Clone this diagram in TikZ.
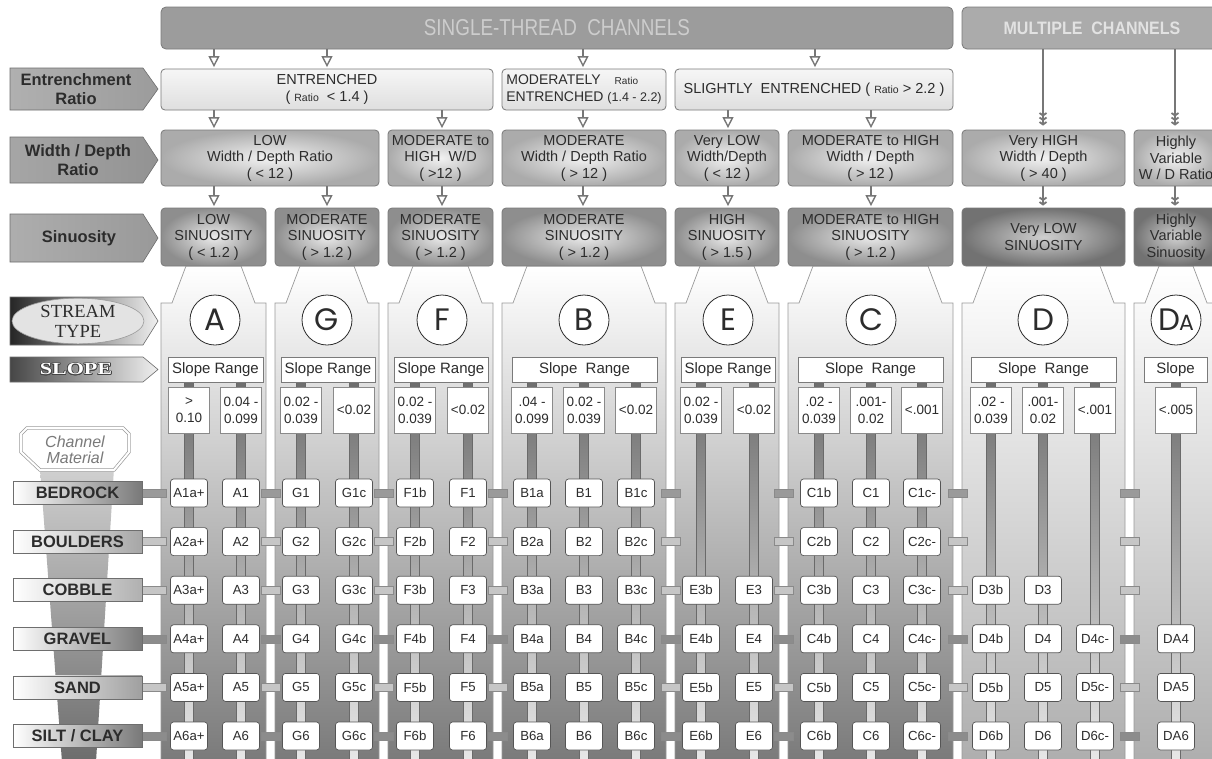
\documentclass[tikz,border=0pt]{standalone}
\usepackage{fontspec}
\setmainfont{Liberation Sans}
\newfontfamily\seriffont{Liberation Serif}
\newfontfamily\letterfont{Poppins}
\usepackage{graphicx}
\usepackage{contour}
\contourlength{0.7pt}
\usetikzlibrary{arrows.meta,calc,shapes.geometric}

\definecolor{txt}{HTML}{2C2C2C}
\definecolor{edge}{HTML}{7A7A7A}
\definecolor{edgetwo}{HTML}{8A8A8A}
\definecolor{stfill}{HTML}{9C9C9C}
\definecolor{sttxt}{HTML}{CDCDCD}
\definecolor{mcfill}{HTML}{ABABAB}
\definecolor{mctxt}{HTML}{E2E2E2}
\definecolor{enttop}{HTML}{F6F6F6}
\definecolor{entbot}{HTML}{DFDFDF}
\definecolor{wdin}{HTML}{F2F2F2}
\definecolor{wdout}{HTML}{ABABAB}
\definecolor{sinin}{HTML}{EAEAEA}
\definecolor{sinout}{HTML}{8E8E8E}
\definecolor{sdin}{HTML}{CFCFCF}
\definecolor{sdout}{HTML}{727272}
\definecolor{pedge}{HTML}{9A9A9A}
\definecolor{pdark}{HTML}{7A7A7A}
\definecolor{plight}{HTML}{AEAEAE}
\definecolor{vtop}{HTML}{6E6E6E}
\definecolor{vbot}{HTML}{E8E8E8}
\definecolor{vedge}{HTML}{6A6A6A}
\definecolor{stubA}{HTML}{9A9A9A}
\definecolor{stubB}{HTML}{C6C6C6}
\definecolor{stubD}{HTML}{8C8C8C}
\definecolor{stubedge}{HTML}{8A8A8A}
\definecolor{arw}{HTML}{777777}
\definecolor{codeedge}{HTML}{555555}
\definecolor{tagedge}{HTML}{6E6E6E}
\definecolor{slopeol}{HTML}{444444}
\definecolor{chm}{HTML}{7A7A7A}
\definecolor{funtop}{HTML}{D0D0D0}
\definecolor{funbot}{HTML}{6C6C6C}

\newcommand\mybox[7]{\node[#6, minimum width={#4-#2}, minimum height={#5-#3}] (#1) at ({(#2+#4)/2},{(#3+#5)/2}) {#7};}
\newcommand\panel[3]{\path[panelsty=#3] (#1,762) -- (#1,303) -- ({#1+11},303) -- ({#1+25},266) -- ({#2-25},266) -- ({#2-11},303) -- (#2,303) -- (#2,762) -- cycle;}
\newcommand\codecol[5]{\foreach \r in {#5}{\node[code] (k#2\r) at (#1,{493+(\r-1)*48.6}) {#3\r#4};}}
\newcommand\lefttag[4]{\path[draw=tagedge, line width=0.6pt, left color=#3, right color=#4] (10,#1) -- (143,#1) -- (158,{(#1+#2)/2}) -- (143,#2) -- (10,#2) -- cycle;}

\begin{document}
\begin{tikzpicture}[x=1pt,y=-1pt,
  topbox/.style={rounded corners=5pt, draw=edge, line width=0.8pt, inner sep=0pt},
  box/.style={rounded corners=4pt, draw=edge, line width=0.8pt, align=center, text=txt, inner sep=1pt, font=\fontsize{14.5}{16.5}\selectfont},
  entbox/.style={box, top color=enttop, bottom color=entbot},
  wdbox/.style={box, inner color=wdin, outer color=wdout},
  sinbox/.style={box, inner color=sinin, outer color=sinout},
  sindark/.style={box, inner color=sdin, outer color=sdout},
  panelsty/.style={draw=pedge, line width=0.7pt, top color=white, bottom color=#1},
  srbox/.style={draw=edge, fill=white, line width=0.6pt, inner sep=0pt, text=txt, font=\fontsize{15}{16}\selectfont},
  valbox/.style={draw=edgetwo, fill=white, line width=0.6pt, align=center, inner sep=0pt, text=txt, minimum width=41, minimum height=46, font=\fontsize{13.5}{17}\selectfont},
  code/.style={draw=codeedge, fill=white, rounded corners=3pt, line width=0.7pt, minimum width=37, minimum height=28, inner sep=0pt, text=txt, font=\fontsize{13.2}{14}\selectfont},
  letter/.style={circle, draw=txt, fill=white, line width=0.8pt, minimum size=50, inner sep=0pt, text=txt, font=\letterfont\fontsize{31}{31}\selectfont},
  lbl/.style={align=center, text=txt, font=\bfseries\fontsize{16.5}{19}\selectfont},
  mat/.style={draw=tagedge, line width=0.6pt, left color=white, minimum width=129, minimum height=23, inner sep=0pt, text=txt, font=\bfseries\fontsize{16.5}{18}\selectfont},
  harrow/.style={draw=arw, line width=1.6pt, shorten >=1.5pt, -{Triangle[open, length=11pt, width=11pt, line width=1.4pt]}},
  chevthree/.style={draw=arw, line width=2.4pt, shorten >=4pt, -{Straight Barb[length=2.5pt, width=7pt, line width=1.8pt] Straight Barb[length=2.5pt, width=7pt, line width=1.8pt] Straight Barb[length=2.5pt, width=7pt, line width=1.8pt]}},
  chevtwo/.style={draw=arw, line width=2.4pt, shorten >=2pt, -{Straight Barb[length=2.5pt, width=7pt, line width=1.8pt] Straight Barb[length=2.5pt, width=7pt, line width=1.8pt]}}
]
\useasboundingbox (0,0) rectangle (1212,758);
\clip (0,0) rectangle (1212,758);
\fill[white] (0,0) rectangle (1212,758);

% ---------- stream-type panels
\panel{161}{266}{pdark}
\panel{275}{379}{pdark}
\panel{388}{493}{pdark}
\panel{502}{666}{pdark}
\panel{675}{779}{pdark}
\panel{788}{953}{pdark}
\panel{962}{1125}{plight}
\panel{1134}{1218}{plight}

% ---------- left funnel and channel material badge
\shade[top color=funtop, bottom color=funbot] (40,468) -- (114,468) -- (96,762) -- (62,762) -- cycle;
\path[draw=pedge, double=white, double distance=2pt, line width=0.7pt, fill=white]
  (27,428) -- (123,428) -- (129,434) -- (129,452) -- (114,470) -- (40,470) -- (21,452) -- (21,434) -- cycle;
\node[align=center, text=chm, font=\itshape\fontsize{16}{16}\selectfont] (chmat) at (75,450) {Channel\\Material};

% ---------- horizontal stubs
\foreach \r/\cc in {0/stubA,1/stubB,2/stubB,3/stubD,4/stubB,5/stubD}{
  \pgfmathsetmacro\yy{493+\r*48.6}
  \foreach \a/\b in {266/275,379/388,493/502,666/675,779/788,953/962,1125/1134}{
    \filldraw[fill=\cc, draw=stubedge, line width=0.4pt] ({\a-5},{\yy-4}) rectangle ({\b+5},{\yy+4});
  }
  \filldraw[fill=\cc, draw=stubedge, line width=0.4pt] (140,{\yy-4}) rectangle (166,{\yy+4});
}

% ---------- vertical bars
\foreach \x in {189,241,301,354,415,468,532,584,636,701,754,819,871,922,991,1043,1095,1176}{
  \shade[top color=vtop, bottom color=vbot, draw=vedge, line width=0.5pt] ({\x-4.5},382) rectangle ({\x+4.5},762);
}

% ---------- top boxes
\mybox{st}{161}{7}{953}{49}{topbox, fill=stfill, text=sttxt}{\scalebox{0.82}[1]{\fontsize{23}{24}\selectfont SINGLE-THREAD\ \ CHANNELS}}
\mybox{mc}{962}{7}{1222}{49}{topbox, fill=mcfill, text=mctxt}{\scalebox{0.89}[1]{\fontsize{18}{20}\selectfont\bfseries MULTIPLE\ \ CHANNELS}}

% ---------- entrenchment row
\mybox{e1}{161}{69}{493}{110}{entbox}{ENTRENCHED\\( {\fontsize{10.5}{12}\selectfont Ratio}\ \ < 1.4 )}
\mybox{e2}{502}{69}{666}{110}{entbox, align=left, font=\fontsize{14}{16.5}\selectfont}{MODERATELY\hspace{14pt}{\fontsize{10}{12}\selectfont Ratio}\\ENTRENCHED {\fontsize{12.5}{12}\selectfont (1.4 - 2.2)}}
\mybox{e3}{675}{69}{953}{110}{entbox}{SLIGHTLY\ \ ENTRENCHED ( {\fontsize{10.5}{12}\selectfont Ratio} > 2.2 )}

% ---------- width / depth row
\mybox{w1}{161}{130}{379}{186}{wdbox}{LOW\\Width / Depth Ratio\\( < 12 )}
\mybox{w2}{388}{130}{493}{186}{wdbox}{MODERATE to\\HIGH\ \ W/D\\( >12 )}
\mybox{w3}{502}{130}{666}{186}{wdbox}{MODERATE\\Width / Depth Ratio\\( > 12 )}
\mybox{w4}{675}{130}{779}{186}{wdbox}{Very LOW\\Width/Depth\\( < 12 )}
\mybox{w5}{788}{130}{953}{186}{wdbox}{MODERATE to HIGH\\Width / Depth\\( > 12 )}
\mybox{w6}{962}{130}{1125}{186}{wdbox}{Very HIGH\\Width / Depth\\( > 40 )}
\mybox{w7}{1134}{130}{1218}{186}{wdbox}{Highly\\Variable\\W / D Ratio}

% ---------- sinuosity row
\mybox{s1}{161}{208}{266}{266}{sinbox}{LOW\\SINUOSITY\\( < 1.2 )}
\mybox{s2}{275}{208}{379}{266}{sinbox}{MODERATE\\SINUOSITY\\( > 1.2 )}
\mybox{s3}{388}{208}{493}{266}{sinbox}{MODERATE\\SINUOSITY\\( > 1.2 )}
\mybox{s4}{502}{208}{666}{266}{sinbox}{MODERATE\\SINUOSITY\\( > 1.2 )}
\mybox{s5}{675}{208}{779}{266}{sinbox}{HIGH\\SINUOSITY\\( > 1.5 )}
\mybox{s6}{788}{208}{953}{266}{sinbox}{MODERATE to HIGH\\SINUOSITY\\( > 1.2 )}
\mybox{s7}{962}{208}{1125}{266}{sindark}{Very LOW\\SINUOSITY}
\mybox{s8}{1134}{208}{1218}{266}{sindark}{Highly\\Variable\\Sinuosity}

% ---------- arrows
\draw[harrow] (214,0 |- st.south) -- (214,0 |- e1.north);
\draw[harrow] (327,0 |- st.south) -- (327,0 |- e1.north);
\draw[harrow] (583,0 |- st.south) -- (583,0 |- e2.north);
\draw[harrow] (815,0 |- st.south) -- (815,0 |- e3.north);
\draw[harrow] (214,0 |- e1.south) -- (214,0 |- w1.north);
\draw[harrow] (442,0 |- e1.south) -- (442,0 |- w2.north);
\draw[harrow] (583,0 |- e2.south) -- (583,0 |- w3.north);
\draw[harrow] (728,0 |- e3.south) -- (728,0 |- w4.north);
\draw[harrow] (871,0 |- e3.south) -- (871,0 |- w5.north);
\draw[harrow] (214,0 |- w1.south) -- (214,0 |- s1.north);
\draw[harrow] (327,0 |- w1.south) -- (327,0 |- s2.north);
\draw[harrow] (442,0 |- w2.south) -- (442,0 |- s3.north);
\draw[harrow] (583,0 |- w3.south) -- (583,0 |- s4.north);
\draw[harrow] (728,0 |- w4.south) -- (728,0 |- s5.north);
\draw[harrow] (871,0 |- w5.south) -- (871,0 |- s6.north);
\draw[chevthree] (1043,0 |- mc.south) -- (1043,0 |- w6.north);
\draw[chevthree] (1175,0 |- mc.south) -- (1175,0 |- w7.north);
\draw[chevtwo] (1043,0 |- w6.south) -- (1043,0 |- s7.north);
\draw[chevtwo] (1175,0 |- w7.south) -- (1175,0 |- s8.north);

% ---------- stream type letters
\node[letter] (tA) at (215,320) {A};
\node[letter] (tG) at (327,320) {G};
\node[letter] (tF) at (442,320) {F};
\node[letter] (tB) at (584,320) {B};
\node[letter] (tE) at (728,320) {E};
\node[letter] (tC) at (871,320) {C};
\node[letter] (tD) at (1043,320) {D};
\node[letter] (tDA) at (1176,320) {D\kern-1pt{\fontsize{22}{22}\selectfont A}};

% ---------- slope range boxes
\mybox{srA}{168}{357}{263}{382}{srbox}{Slope Range}
\mybox{srG}{281}{357}{375}{382}{srbox}{Slope Range}
\mybox{srF}{394}{357}{488}{382}{srbox}{Slope Range}
\mybox{srB}{512}{357}{657}{382}{srbox}{Slope\ \ Range}
\mybox{srE}{681}{357}{775}{382}{srbox}{Slope Range}
\mybox{srC}{798}{357}{943}{382}{srbox}{Slope\ \ Range}
\mybox{srD}{971}{357}{1116}{382}{srbox}{Slope\ \ Range}
\mybox{srDA}{1144}{357}{1207}{382}{srbox}{Slope}

% ---------- slope values
\node[valbox] (vA1) at (189,410) {>\\0.10};
\node[valbox] (vA2) at (241,410) {0.04 -\\0.099};
\node[valbox] (vG1) at (301,410) {0.02 -\\0.039};
\node[valbox] (vG2) at (354,410) {<0.02};
\node[valbox] (vF1) at (415,410) {0.02 -\\0.039};
\node[valbox] (vF2) at (468,410) {<0.02};
\node[valbox] (vB1) at (532,410) {.04 -\\0.099};
\node[valbox] (vB2) at (584,410) {0.02 -\\0.039};
\node[valbox] (vB3) at (636,410) {<0.02};
\node[valbox] (vE1) at (701,410) {0.02 -\\0.039};
\node[valbox] (vE2) at (754,410) {<0.02};
\node[valbox] (vC1) at (819,410) {.02 -\\0.039};
\node[valbox] (vC2) at (871,410) {.001-\\0.02};
\node[valbox] (vC3) at (922,410) {<.001};
\node[valbox] (vD1) at (991,410) {.02 -\\0.039};
\node[valbox] (vD2) at (1043,410) {.001-\\0.02};
\node[valbox] (vD3) at (1095,410) {<.001};
\node[valbox] (vDA) at (1176,410) {<.005};

% ---------- codes
\codecol{189}{Aa}{A}{a+}{1,...,6}
\codecol{241}{Ab}{A}{}{1,...,6}
\codecol{301}{Ga}{G}{}{1,...,6}
\codecol{354}{Gb}{G}{c}{1,...,6}
\codecol{415}{Fa}{F}{b}{1,...,6}
\codecol{468}{Fb}{F}{}{1,...,6}
\codecol{532}{Ba}{B}{a}{1,...,6}
\codecol{584}{Bb}{B}{}{1,...,6}
\codecol{636}{Bc}{B}{c}{1,...,6}
\codecol{701}{Ea}{E}{b}{3,...,6}
\codecol{754}{Eb}{E}{}{3,...,6}
\codecol{819}{Ca}{C}{b}{1,...,6}
\codecol{871}{Cb}{C}{}{1,...,6}
\codecol{922}{Cc}{C}{c-}{1,...,6}
\codecol{991}{Da}{D}{b}{3,...,6}
\codecol{1043}{Db}{D}{}{3,...,6}
\codecol{1095}{Dc}{D}{c-}{4,5,6}
\codecol{1176}{DAa}{DA}{}{4,5,6}

% ---------- left labels
\lefttag{68}{110}{gray!62}{gray!78}
\node[lbl] (lent) at (76,89) {Entrenchment\\Ratio};
\lefttag{137}{183}{gray!70}{gray!85}
\node[lbl] (lwd) at (78,160) {Width / Depth\\Ratio};
\lefttag{214}{262}{gray!64}{gray!80}
\node[lbl] (lsin) at (79,238) {Sinuosity};
\lefttag{297}{345}{gray!30!black}{gray!12}
\node[ellipse, draw=pedge, fill=gray!22, line width=0.6pt, minimum width=132, minimum height=44, inner sep=0pt, align=center, text=txt, font=\seriffont\fontsize{18.5}{20}\selectfont] (lst) at (78,321) {STREAM\\TYPE};
\lefttag{357}{382}{gray!55!black}{gray!12}
\node[font=\seriffont\bfseries\fontsize{17}{18}\selectfont] (lslope) at (76,369.5) {\contour{slopeol}{\textcolor{white}{\scalebox{1.3}[1]{SLOPE}}}};

% ---------- material labels
\node[mat, right color=gray!95!black] (mBed) at (77.5,493) {BEDROCK};
\node[mat, right color=gray!70] (mBou) at (77.5,541.6) {BOULDERS};
\node[mat, right color=gray!62] (mCob) at (77.5,590.2) {COBBLE};
\node[mat, right color=gray!95!black] (mGra) at (77.5,638.8) {GRAVEL};
\node[mat, right color=gray!75] (mSan) at (77.5,687.4) {SAND};
\node[mat, right color=gray!95!black] (mSil) at (77.5,736) {SILT / CLAY};
\end{tikzpicture}
\end{document}
